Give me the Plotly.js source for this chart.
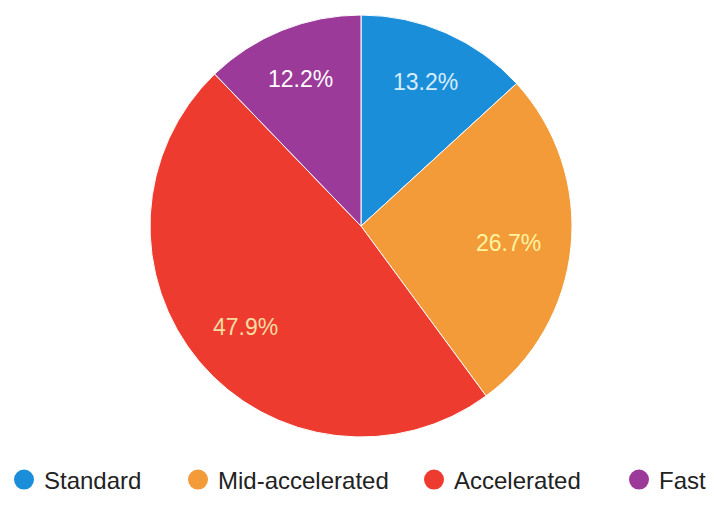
<!DOCTYPE html>
<html>
<head>
<meta charset="utf-8">
<script src="https://cdn.plot.ly/plotly-3.0.1.min.js"></script>
<style>html,body{margin:0;padding:0;background:#fff;}#chart{width:714px;height:520px;}</style>
</head>
<body>
<div id="chart"></div>
<script>
const categories = ["Standard", "Mid-accelerated", "Accelerated", "Fast"];
const shares = [13.2, 26.7, 47.9, 12.2];
const colors = ["#1b8ed9", "#f29b38", "#ee3b2f", "#9c3a99"];
const labelColors = ["#d8ecff", "#fff4a0", "#f6dca0", "#ffffff"];

const W = 714, H = 520;
const FONT = "Liberation Sans, Arial, sans-serif";
const domX = [0.2101, 0.8011], domY = [0.1596, 0.9711];

const pie = {
  type: "pie",
  labels: categories,
  values: shares,
  sort: false,
  direction: "clockwise",
  rotation: 0,
  marker: {colors: colors, line: {color: "#ffffff", width: 1}},
  textinfo: "none",
  showlegend: false,
  hoverinfo: "label+percent",
  domain: {x: domX, y: domY}
};

// percentage labels placed from the cumulative shares (label box kept inside the slice)
const total = shares.reduce((a, b) => a + b, 0);
const cx = (domX[0] + domX[1]) / 2 * W;
const cyUp = (domY[0] + domY[1]) / 2 * H;
const r = Math.min((domX[1] - domX[0]) * W, (domY[1] - domY[0]) * H) / 2;
const labelSize = 23;
let cum = 0;
const annotations = shares.map((v, i) => {
  const mid = (cum + v / 2) / total * 2 * Math.PI;
  cum += v;
  const txt = (v / total * 100).toFixed(1) + "%";
  const hw = 0.5 * 0.567 * txt.length * labelSize;
  const hh = 0.36 * labelSize;
  const s = Math.sin(mid), c = Math.cos(mid);
  const d = 0.862 * r - (hw * Math.abs(s) + hh * Math.abs(c));
  return {
    xref: "paper", yref: "paper",
    x: (cx + d * s) / W, y: (cyUp + d * c) / H,
    xanchor: "center", yanchor: "middle",
    yshift: -3,
    text: txt, showarrow: false,
    font: {family: FONT, size: labelSize, color: labelColors[i]}
  };
});

const legendNames = ["legend", "legend2", "legend3", "legend4"];
const legendTraces = categories.map((c, i) => ({
  type: "scatter",
  mode: "markers",
  x: [null], y: [null],
  name: c,
  legend: legendNames[i],
  marker: {color: colors[i], size: 16, symbol: "circle", line: {color: colors[i], width: 4}},
  showlegend: true,
  hoverinfo: "skip"
}));

const markerCenters = [23, 197, 433, 638];
const layout = {
  width: W, height: H,
  margin: {l: 0, r: 0, t: 0, b: 0},
  paper_bgcolor: "#ffffff",
  plot_bgcolor: "#ffffff",
  xaxis: {visible: false},
  yaxis: {visible: false},
  showlegend: true,
  annotations: annotations
};
legendNames.forEach((ln, i) => {
  layout[ln] = {
    orientation: "h",
    x: (markerCenters[i] - 19) / W, xanchor: "left",
    y: (H - 480) / H, yanchor: "middle",
    font: {family: FONT, size: 24, color: "#222222"},
    bgcolor: "rgba(0,0,0,0)",
    itemclick: false, itemdoubleclick: false
  };
});

Plotly.newPlot("chart", [pie].concat(legendTraces), layout, {displayModeBar: false, staticPlot: true});
</script>
</body>
</html>
